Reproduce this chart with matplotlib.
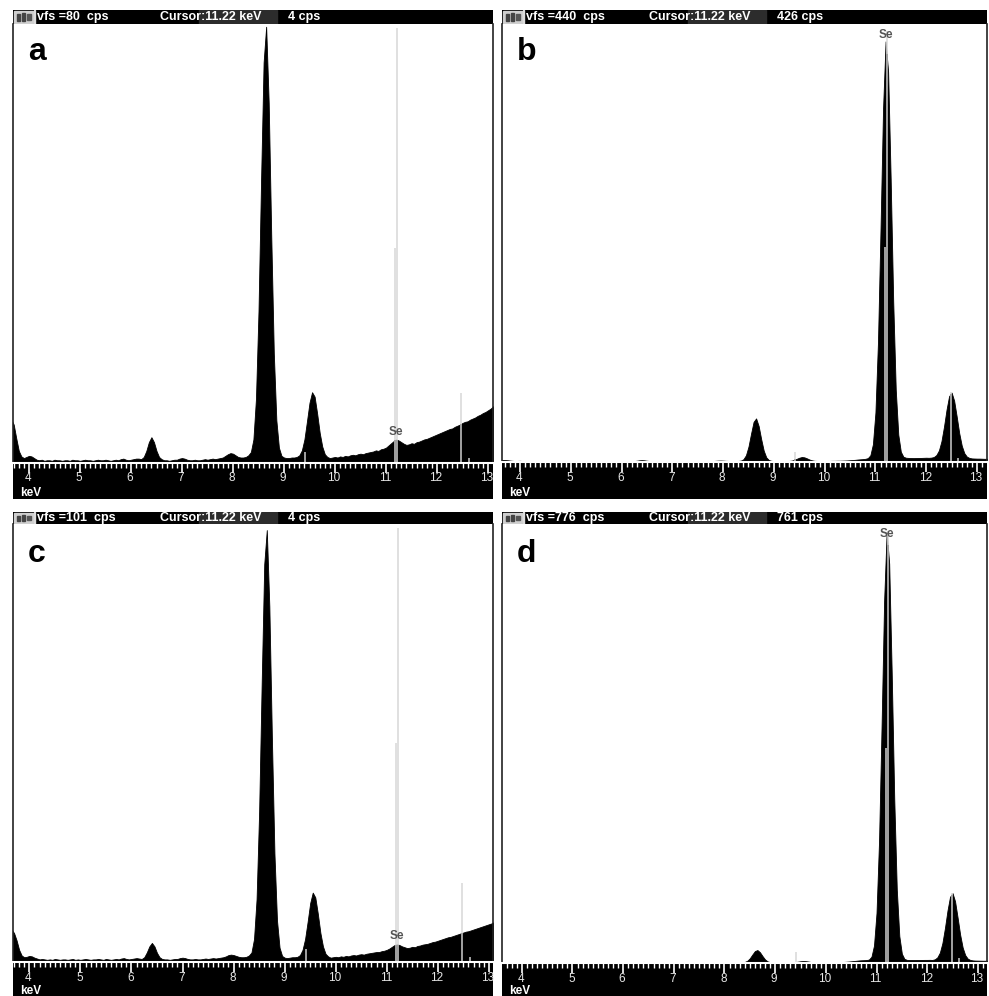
import numpy as np
import matplotlib
matplotlib.use("Agg")
import matplotlib.pyplot as plt
from matplotlib.ticker import MultipleLocator
from matplotlib.patches import Rectangle

plt.rcParams['font.family'] = ['Liberation Sans', 'DejaVu Sans']

# ---------------- data ----------------
E_START, E_STEP = 3.60, 0.05          # channel calibration (keV)
panel_labels = ['a', 'b', 'c', 'd']
vfs = [80, 440, 101, 776]             # full scale (cps)
cursor_kev = 11.22
cursor_cps = [4, 426, 4, 761]
tick_labels = [4, 5, 6, 7, 8, 9, 10, 11, 12, 13]

counts_a = [9.0, 8.0,
    7.0, 4.5, 2.2, 1.2, 0.9, 1.1, 1.3, 1.2, 0.9, 0.6,
    0.5, 0.6, 0.4, 0.5, 0.5, 0.4, 0.6, 0.5, 0.5, 0.4,
    0.5, 0.5, 0.4, 0.6, 0.5, 0.5, 0.4, 0.5, 0.6, 0.5,
    0.5, 0.4, 0.5, 0.6, 0.5, 0.5, 0.6, 0.5, 0.4, 0.5,
    0.6, 0.5, 0.7, 0.8, 0.6, 0.5, 0.6, 0.7, 0.8, 0.8,
    0.7, 1.1, 2.2, 3.8, 4.7, 3.8, 2.2, 1.1, 0.7, 0.5,
    0.5, 0.4, 0.5, 0.6, 0.6, 0.8, 0.9, 0.8, 0.6, 0.5,
    0.5, 0.6, 0.5, 0.5, 0.6, 0.7, 0.6, 0.7, 0.8, 0.7,
    0.8, 0.9, 1.0, 1.3, 1.6, 1.8, 1.7, 1.4, 1.1, 1.0,
    1.0, 1.1, 1.4, 2.0, 4.3, 11.7, 27.7, 51.4, 73, 79.5,
    65.6, 41.3, 20, 7.8, 2.8, 1.3, 1.0, 0.9, 0.9, 1.0,
    1.0, 1.1, 1.4, 2.3, 4.3, 7.6, 11.0, 12.9, 12.1, 9.0,
    5.5, 3.0, 1.6, 1.1, 0.9, 1.0, 1.1, 1.0, 1.2, 1.1,
    1.3, 1.2, 1.4, 1.5, 1.4, 1.6, 1.7, 1.6, 1.8, 1.9,
    2.0, 2.1, 2.3, 2.2, 2.5, 2.6, 2.8, 3.2, 3.6, 4.0,
    4.3, 4.1, 3.8, 3.5, 3.3, 3.4, 3.6, 3.5, 3.8, 3.9,
    4.1, 4.3, 4.4, 4.6, 4.8, 5.0, 5.2, 5.4, 5.6, 5.8,
    6.0, 6.2, 6.3, 6.6, 6.8, 7.0, 7.3, 7.5, 7.6, 7.9,
    8.1, 8.3, 8.6, 8.8, 9.1, 9.3, 9.6, 9.9, 10.3,
    10.6, 11.0]

counts_b = [2.2, 2.1,
    2.0, 1.8, 1.5, 1.2, 1.0, 1.1, 1.2, 1.0, 0.8, 0.6,
    0.6, 0.5, 0.5, 0.6, 0.5, 0.5, 0.5, 0.6, 0.5, 0.5,
    0.5, 0.5, 0.6, 0.5, 0.5, 0.5, 0.6, 0.5, 0.5, 0.5,
    0.5, 0.5, 0.6, 0.5, 0.5, 0.6, 0.5, 0.5, 0.6, 0.5,
    0.6, 0.5, 0.6, 0.6, 0.5, 0.6, 0.6, 0.7, 0.7, 0.8,
    0.8, 1.0, 1.3, 1.7, 1.9, 1.7, 1.3, 1.0, 0.8, 0.7,
    0.6, 0.6, 0.6, 0.7, 0.7, 0.8, 0.8, 0.7, 0.7, 0.6,
    0.6, 0.6, 0.7, 0.7, 0.6, 0.7, 0.7, 0.8, 0.8, 0.8,
    0.9, 0.9, 1.0, 1.2, 1.4, 1.5, 1.4, 1.2, 1.1, 1.0,
    1.0, 1.0, 1.1, 1.4, 2.8, 6.8, 15.5, 28.4, 40.3, 43.8,
    36.2, 23, 11.4, 4.7, 2.0, 1.2, 1.0, 1.0, 1.0, 1.0,
    1.0, 1.0, 1.1, 1.4, 2.1, 3.2, 4.3, 5.0, 4.7, 3.7,
    2.5, 1.7, 1.2, 1.1, 1.0, 1.0, 1.0, 1.1, 1.1, 1.2,
    1.2, 1.3, 1.3, 1.4, 1.5, 1.6, 1.8, 2.0, 2.2, 2.5,
    2.7, 2.9, 3.2, 3.9, 6.8, 17.8, 49.8, 120.5, 233.5, 355,
    422.5, 392, 284.4, 161.6, 72.8, 27.5, 10.3, 5.3, 4.3, 4.1,
    4.0, 3.9, 4.0, 4.1, 4.1, 4.2, 4.3, 4.2, 4.4, 5.0,
    7.0, 11.6, 20.9, 35.5, 52.6, 66.1, 69.7, 61.6, 45.8, 29,
    16.4, 8.9, 5.4, 4.1, 3.6, 3.5, 3.4, 3.4, 3.3,
    3.2, 3.2]

counts_c = [8.0, 7.5,
    6.7, 5.0, 2.8, 1.5, 1.1, 1.2, 1.4, 1.3, 1.0, 0.8,
    0.6, 0.7, 0.6, 0.5, 0.6, 0.5, 0.7, 0.6, 0.5, 0.6,
    0.6, 0.5, 0.6, 0.7, 0.5, 0.6, 0.5, 0.6, 0.7, 0.6,
    0.5, 0.6, 0.6, 0.7, 0.6, 0.5, 0.7, 0.6, 0.5, 0.6,
    0.7, 0.6, 0.8, 0.9, 0.7, 0.6, 0.7, 0.8, 0.9, 0.8,
    0.7, 1.1, 2.2, 3.6, 4.4, 3.6, 2.1, 1.1, 0.7, 0.6,
    0.6, 0.5, 0.6, 0.7, 0.7, 0.9, 1.0, 0.9, 0.7, 0.6,
    0.6, 0.7, 0.6, 0.6, 0.7, 0.8, 0.7, 0.8, 0.9, 0.8,
    0.9, 1.0, 1.1, 1.3, 1.6, 1.7, 1.6, 1.4, 1.2, 1.1,
    1.1, 1.2, 1.5, 2.2, 5.3, 14.5, 34.6, 64.3, 91.7, 99.6,
    82, 51.7, 25, 9.6, 3.3, 1.4, 1.0, 0.9, 1.0, 1.1,
    1.1, 1.2, 1.6, 2.8, 5.3, 9.3, 13.6, 16.0, 14.9, 11.1,
    6.7, 3.6, 1.9, 1.3, 1.0, 1.1, 1.2, 1.1, 1.3, 1.2,
    1.4, 1.3, 1.5, 1.6, 1.5, 1.7, 1.8, 1.7, 1.9, 2.0,
    2.1, 2.2, 2.3, 2.3, 2.5, 2.6, 2.8, 3.1, 3.5, 3.9,
    4.1, 3.9, 3.6, 3.4, 3.2, 3.3, 3.5, 3.4, 3.7, 3.8,
    4.0, 4.1, 4.2, 4.4, 4.6, 4.7, 4.9, 5.1, 5.3, 5.5,
    5.7, 5.8, 6.0, 6.2, 6.4, 6.6, 6.8, 7.0, 7.1, 7.3,
    7.5, 7.7, 7.9, 8.1, 8.3, 8.5, 8.7, 8.9, 9.2,
    9.4, 9.7]

counts_d = [1.3, 1.3,
    1.2, 1.0, 0.9, 0.8, 0.8, 0.8, 0.9, 0.8, 0.7, 0.7,
    0.6, 0.6, 0.6, 0.6, 0.6, 0.6, 0.6, 0.6, 0.6, 0.6,
    0.6, 0.6, 0.6, 0.6, 0.6, 0.6, 0.6, 0.6, 0.6, 0.6,
    0.6, 0.6, 0.6, 0.6, 0.6, 0.6, 0.6, 0.6, 0.6, 0.6,
    0.6, 0.6, 0.6, 0.6, 0.6, 0.6, 0.7, 0.7, 0.8, 0.9,
    0.9, 1.0, 1.2, 1.6, 2.0, 1.7, 1.2, 1.0, 0.8, 0.7,
    0.7, 0.7, 0.7, 0.7, 0.7, 0.7, 0.8, 0.8, 0.7, 0.7,
    0.7, 0.7, 0.7, 0.7, 0.7, 0.7, 0.8, 0.8, 0.8, 0.8,
    0.8, 0.9, 0.9, 1.0, 1.1, 1.2, 1.2, 1.1, 1.0, 1.0,
    1.0, 1.0, 1.0, 1.2, 1.9, 4.0, 8.4, 15, 21.1, 22.9,
    19, 12.3, 6.3, 2.9, 1.5, 1.1, 1.0, 1.0, 1.0, 1.0,
    1.0, 1.0, 1.0, 1.2, 1.7, 2.4, 3.1, 3.5, 3.3, 2.7,
    1.9, 1.4, 1.1, 1.0, 1.0, 1.0, 1.1, 1.1, 1.2, 1.3,
    1.4, 1.5, 1.7, 1.9, 2.2, 2.6, 3.0, 3.5, 4.0, 4.5,
    4.8, 5.0, 5.2, 6.1, 11.1, 30.8, 88.6, 216, 420, 640,
    761, 706, 512, 290, 130, 47.6, 16.4, 7.3, 5.5, 5.2,
    5.2, 5.2, 5.3, 5.3, 5.4, 5.5, 5.5, 5.6, 5.4, 6.5,
    10, 18.4, 35.3, 61.8, 92.6, 117, 123.5, 109, 80.3, 50.2,
    27.3, 14, 7.7, 5.4, 4.6, 4.3, 4.2, 4.1, 4.0,
    4.0, 3.9]

# KLM marker lines (energy keV, height as fraction of full scale)
marker_kev = [11.18, 12.48, 9.42, 12.62]
marker_h_a = [0.49, 0.16, 0.025, 0.012]
marker_h_b = [0.49, 0.16, 0.022, 0.010]
marker_h_c = [0.50, 0.18, 0.030, 0.012]
marker_h_d = [0.49, 0.16, 0.025, 0.012]
cursor_h = [0.99, 0.985, 0.99, 0.985]

# "Se" label positions (keV, cps)
se_label_kev = [11.2, 11.2, 11.2, 11.2]
se_label_cps = [5.6, 429, 5.9, 758]

all_counts = [counts_a, counts_b, counts_c, counts_d]
all_markers = [marker_h_a, marker_h_b, marker_h_c, marker_h_d]
for c in all_counts:
    assert len(c) == 193, len(c)

# ---------------- layout (pixels) ----------------
W, H = 989, 996
fig = plt.figure(figsize=(W / 100, H / 100), dpi=100)
fig.patch.set_facecolor('white')


def fbox(x0, y0, x1, y1):
    return [x0 / W, 1 - y1 / H, (x1 - x0) / W, (y1 - y0) / H]


layout = [
    dict(x0=13, x1=493, yh=10, yp=24, yb=463, ye=499, xlim=(3.686, 13.098), lab_y=0.58, kev_y=0.17),
    dict(x0=502, x1=987, yh=10, yp=24, yb=462, ye=499, xlim=(3.646, 13.197), lab_y=0.58, kev_y=0.17),
    dict(x0=13, x1=493, yh=512, yp=524, yb=962, ye=996, xlim=(3.680, 13.080), lab_y=0.52, kev_y=0.14),
    dict(x0=502, x1=987, yh=512, yp=524, yb=963, ye=996, xlim=(3.610, 13.180), lab_y=0.52, kev_y=0.14),
]

for i, L in enumerate(layout):
    x0, x1, yh, yp, yb, ye = L['x0'], L['x1'], L['yh'], L['yp'], L['yb'], L['ye']
    counts = np.array(all_counts[i], dtype=float)
    E = np.round(E_START + E_STEP * np.arange(len(counts)), 2)
    full = vfs[i]

    # --- header bar ---
    axh = fig.add_axes(fbox(x0, yh, x1, yp))
    axh.set_facecolor('black')
    axh.set_xlim(0, x1 - x0)
    axh.set_ylim(0, yp - yh)
    axh.set_xticks([]); axh.set_yticks([])
    for s in axh.spines.values():
        s.set_visible(False)
    hh = yp - yh
    axh.add_patch(Rectangle((1, 1), 19, hh - 2, color='#cfcfcf'))
    axh.add_patch(Rectangle((4, 3), 3, hh - 7, color='#444444'))
    axh.add_patch(Rectangle((9, 3), 3, hh - 6, color='#444444'))
    axh.add_patch(Rectangle((14, 4), 4, hh - 8, color='#555555'))
    axh.add_patch(Rectangle((21, 0), 1, hh, color='#dddddd'))
    axh.add_patch(Rectangle((186, 0), 78, hh, color='#2c2c2c'))
    kw = dict(color='white', fontsize=9, fontweight='bold', va='center', ha='left')
    axh.text(24, hh / 2, f"vfs ={full}  cps", **kw)
    axh.text(147, hh / 2, f"Cursor:{cursor_kev:.2f} keV", **kw)
    axh.text(275, hh / 2, f"{cursor_cps[i]} cps", **kw)

    # --- spectrum area ---
    ax = fig.add_axes(fbox(x0, yp, x1, yb))
    ax.set_facecolor('white')
    ax.set_xlim(*L['xlim'])
    ax.set_ylim(0, full)
    ax.set_xticks([]); ax.set_yticks([])
    for k in ('top', 'bottom'):
        ax.spines[k].set_visible(False)
    for k in ('left', 'right'):
        ax.spines[k].set_color('#222222')
        ax.spines[k].set_linewidth(1.2)
    ax.fill_between(E, counts, 0, color='black', linewidth=0.6, edgecolor='black', zorder=2)

    lines = list(zip(marker_kev, all_markers[i])) + [(cursor_kev, cursor_h[i])]
    for xk, fh in lines:
        top = fh * full
        ax.vlines(xk, 0, top, color='#dadada', linewidth=1.2, zorder=3)
        inside = min(top, float(np.interp(xk, E, counts)))
        ax.vlines(xk, 0, inside, color='#9a9a9a', linewidth=1.2, zorder=4)

    ax.text(se_label_kev[i], se_label_cps[i], 'Se', color='#555555', fontsize=8.5,
            fontweight='bold', ha='center', va='center', zorder=5)

    # panel letter
    fig.text((x0 + 15) / W, 1 - (yh + 50) / H, panel_labels[i], fontsize=23,
             fontweight='bold', va='baseline', ha='left', color='black')

    # --- energy ruler ---
    axb = fig.add_axes(fbox(x0, yb, x1, ye))
    axb.set_facecolor('black')
    axb.set_xlim(*L['xlim'])
    axb.set_ylim(0, 1)
    for k, s in axb.spines.items():
        s.set_visible(k == 'top')
    axb.spines['top'].set_color('white')
    axb.spines['top'].set_linewidth(1.5)
    axb.xaxis.set_major_locator(MultipleLocator(1))
    axb.xaxis.set_minor_locator(MultipleLocator(0.1))
    axb.tick_params(axis='x', which='both', top=True, bottom=False, labeltop=False,
                    labelbottom=False, direction='in', color='white')
    axb.tick_params(axis='x', which='major', length=7, width=1.2)
    axb.tick_params(axis='x', which='minor', length=3.5, width=1)
    axb.set_yticks([])
    for t in tick_labels:
        axb.text(t - 0.02, L['lab_y'], str(t), color='#e6e6e6', fontsize=8.5, ha='center', va='center')
    axb.text(7 / (x1 - x0), L['kev_y'], 'keV', color='white', fontsize=8.5, fontweight='bold',
             ha='left', va='center', transform=axb.transAxes)

fig.savefig('out.png', dpi=100, facecolor='white')
